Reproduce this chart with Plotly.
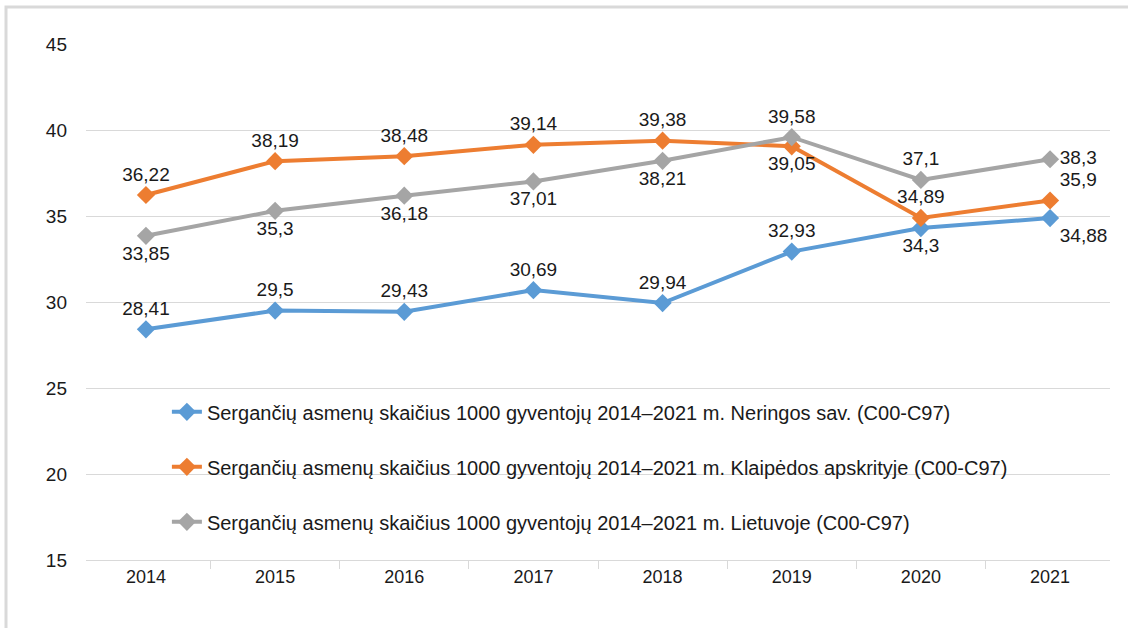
import plotly.graph_objects as go

years = ["2014", "2015", "2016", "2017", "2018", "2019", "2020", "2021"]
neringa = [28.41, 29.5, 29.43, 30.69, 29.94, 32.93, 34.3, 34.88]
klaipeda = [36.22, 38.19, 38.48, 39.14, 39.38, 39.05, 34.89, 35.9]
lietuva = [33.85, 35.3, 36.18, 37.01, 38.21, 39.58, 37.1, 38.3]

names = [
    "Sergančių asmenų skaičius 1000 gyventojų 2014–2021 m. Neringos sav. (C00-C97)",
    "Sergančių asmenų skaičius 1000 gyventojų 2014–2021 m. Klaipėdos apskrityje (C00-C97)",
    "Sergančių asmenų skaičius 1000 gyventojų 2014–2021 m. Lietuvoje (C00-C97)",
]
colors = ["#5B9BD5", "#ED7D31", "#A5A5A5"]
positions = [
    ["top center"] * 6 + ["bottom center", "bottom right"],
    ["top center"] * 5 + ["bottom center", "top center", "top right"],
    ["bottom center"] * 5 + ["top center", "top center", "middle right"],
]

FONT = "Liberation Sans, Arial, sans-serif"

def fmt(v):
    return ("%g" % v).replace(".", ",")

fig = go.Figure()
for i, (vals, name) in enumerate(zip([neringa, klaipeda, lietuva], names)):
    fig.add_trace(go.Scatter(
        x=years, y=vals, name=name, mode="lines+markers+text",
        line=dict(color=colors[i], width=4),
        marker=dict(symbol="diamond", size=14, color=colors[i]),
        text=[fmt(v) for v in vals],
        textposition=positions[i],
        textfont=dict(family=FONT, size=19, color="#1a1a1a"),
        legendgroup="g%d" % i,
        cliponaxis=False,
    ))

fig.update_layout(
    width=1128, height=628,
    margin=dict(l=86, r=18, t=44, b=68),
    paper_bgcolor="white", plot_bgcolor="white",
    font=dict(family=FONT, size=18, color="#1a1a1a"),
    showlegend=True,
    legend=dict(x=0.079, y=0.325, xanchor="left", yanchor="top",
                bgcolor="rgba(0,0,0,0)", tracegroupgap=26,
                font=dict(family=FONT, size=20, color="#1a1a1a")),
    xaxis=dict(type="category", showgrid=False, showline=True,
               linecolor="#d9d9d9", linewidth=1, ticks="outside",
               tickson="boundaries", ticklen=8, tickcolor="#d9d9d9",
               tickfont=dict(family=FONT, size=18)),
    yaxis=dict(range=[15, 45], dtick=5, showgrid=True, gridcolor="#d9d9d9",
               gridwidth=1, zeroline=False, showline=False,
               ticklabelstandoff=18, tickfont=dict(family=FONT, size=19)),
    shapes=[dict(type="rect", xref="paper", yref="paper",
                 x0=(6 - 86) / 1024, x1=(1140 - 86) / 1024,
                 y0=-0.2, y1=1 + (44 - 7) / 516,
                 line=dict(color="#d9d9d9", width=3), layer="below")],
)

fig.write_html("out.html",
               config={"displayModeBar": False},
               post_script="document.body.style.margin='0';document.body.style.overflow='hidden';")
